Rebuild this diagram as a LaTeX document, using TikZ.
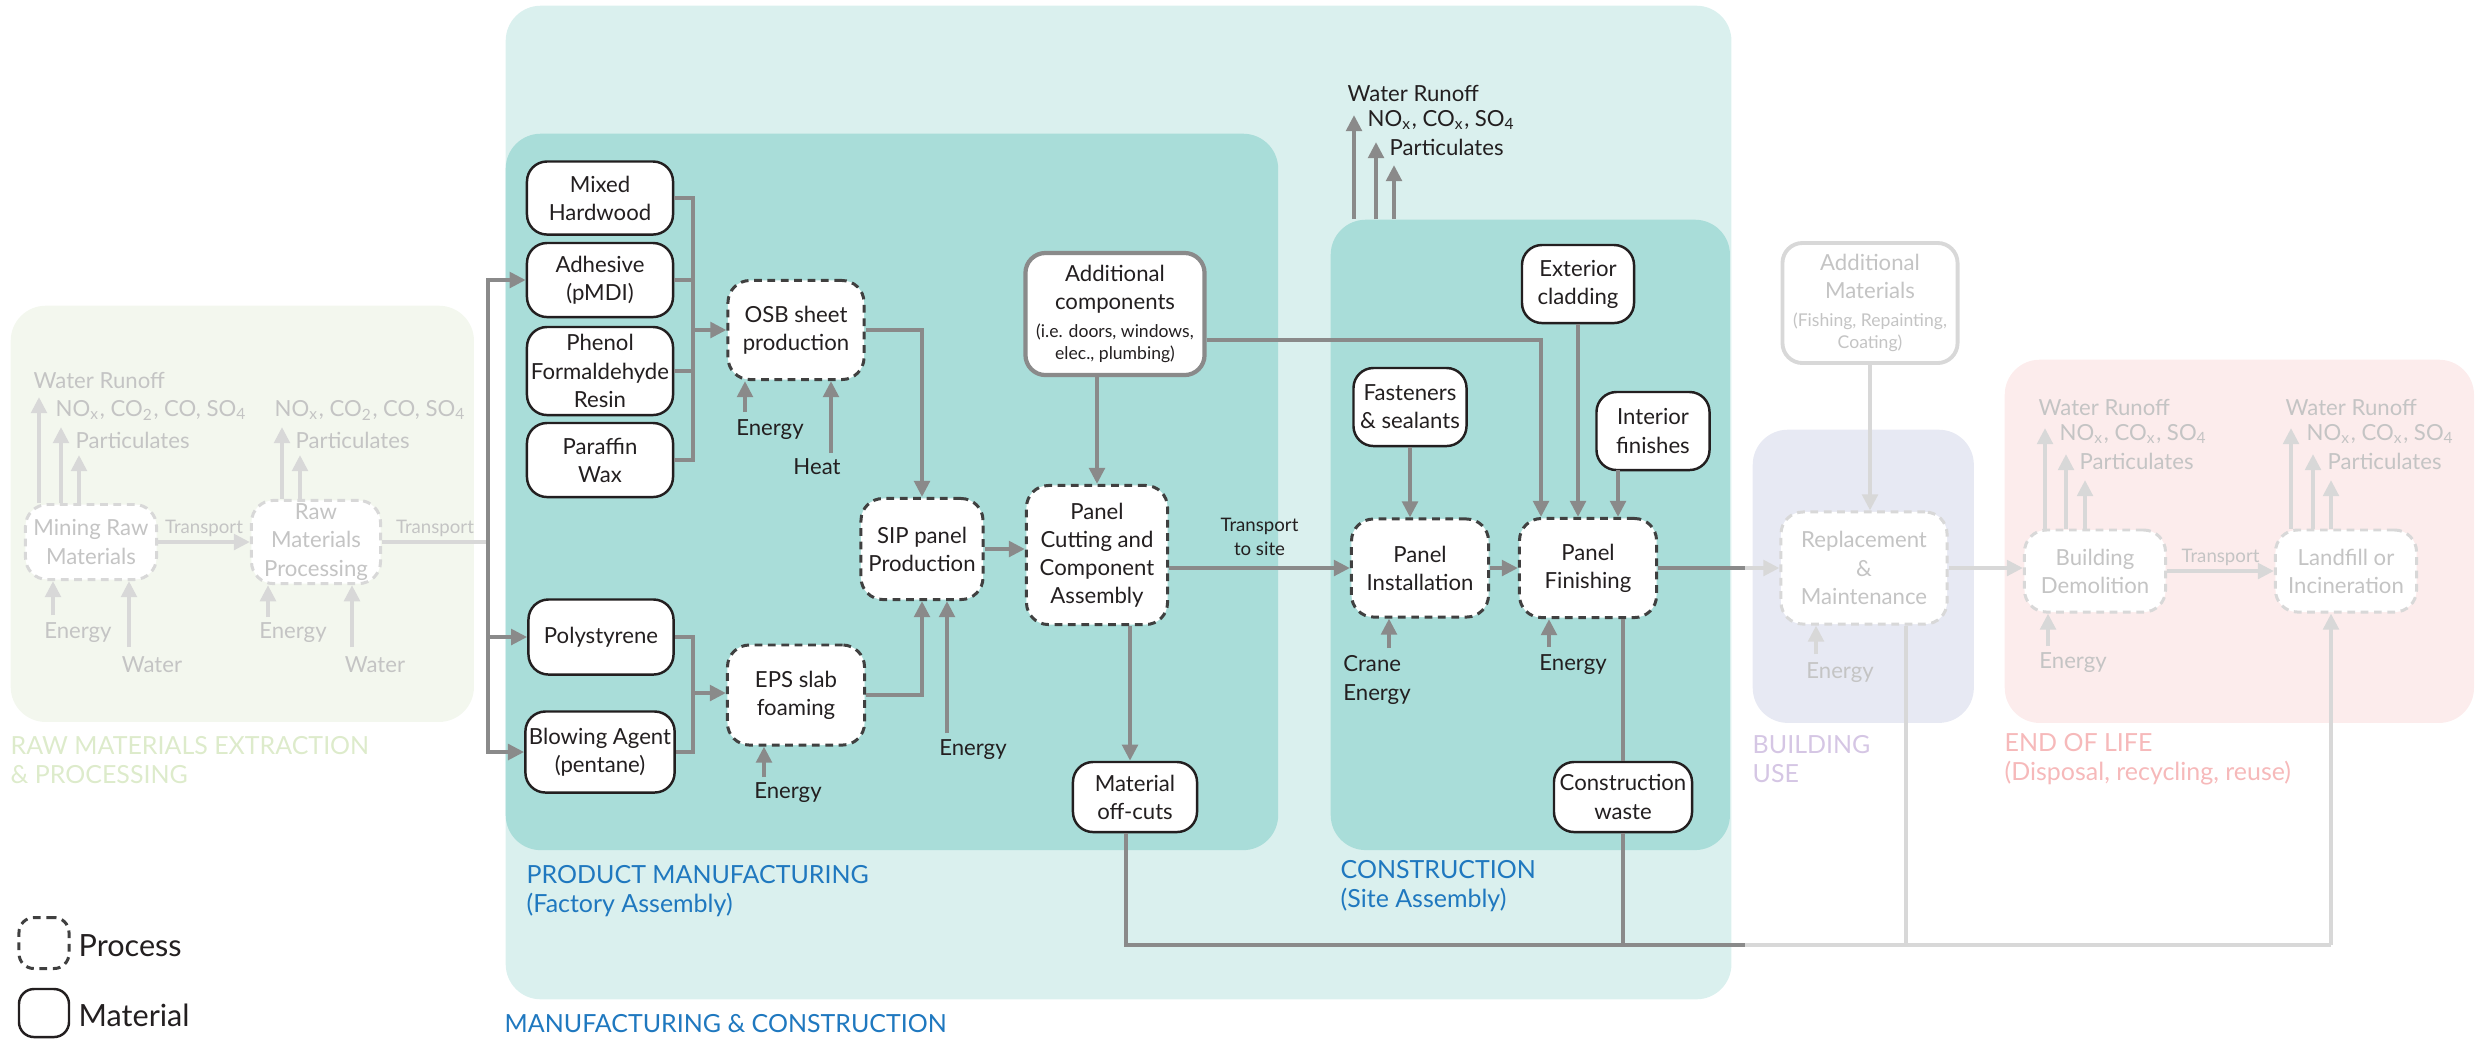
\documentclass[tikz,border=0pt]{standalone}
\usepackage{fontspec}
\setmainfont{Lato}
\usetikzlibrary{arrows.meta}

\definecolor{ink}{HTML}{231F20}
\definecolor{dashc}{HTML}{404040}
\definecolor{flowc}{HTML}{8A8A8A}
\definecolor{ghostline}{HTML}{D8D8D8}
\definecolor{ghosttext}{HTML}{C4C4C4}
\definecolor{rawbg}{HTML}{F3F7EE}
\definecolor{mcbg}{HTML}{DAF0EE}
\definecolor{tealbg}{HTML}{A9DDD9}
\definecolor{usebg}{HTML}{E7E9F3}
\definecolor{eolbg}{HTML}{FCECEC}
\definecolor{rawlbl}{HTML}{DDEBCB}
\definecolor{mclbl}{HTML}{1F78BF}
\definecolor{uselbl}{HTML}{D5C6E4}
\definecolor{eollbl}{HTML}{F6B9BA}

\newcommand{\smalltxt}[1]{{\fontsize{5}{6}\selectfont #1}}

\tikzset{
  >={Triangle[length=4.6pt,width=4.4pt]},
  region/.style={anchor=north west,inner sep=0pt,rounded corners=3.5mm},
  boxsz/.style 2 args={minimum width=#1cm,minimum height=#2cm},
  matbox/.style={draw=ink,fill=white,line width=0.7pt,rounded corners=2mm,
    align=center,inner sep=1pt},
  procbox/.style={draw=dashc,fill=white,line width=0.85pt,
    dash pattern=on 2.2pt off 1.6pt,rounded corners=2.2mm,align=center,inner sep=1pt},
  ghostproc/.style={procbox,draw=ghostline,text=ghosttext},
  ghostmat/.style={matbox,draw=ghostline,line width=1.1pt,text=ghosttext},
  flow/.style={->,draw=flowc,line width=1.15pt},
  link/.style={draw=flowc,line width=1.15pt},
  ghostflow/.style={->,draw=ghostline,line width=1.15pt},
  ghostlink/.style={draw=ghostline,line width=1.15pt},
  inlbl/.style={inner sep=0pt,align=left},
  ghostlbl/.style={inner sep=0pt,text=ghosttext},
  emis/.style={anchor=west,inner sep=0pt},
  smalllbl/.style={font=\fontsize{5.3}{6.8}\selectfont,inner sep=1pt,align=center},
  seclbl/.style={anchor=west,align=left,inner sep=0pt,font=\fontsize{7.1}{8.4}\selectfont},
  leglbl/.style={anchor=west,inner sep=0pt,font=\fontsize{8.7}{10}\selectfont},
}

\begin{document}
\begin{tikzpicture}[x=0.01cm,y=-0.01cm,font=\fontsize{6.3}{8}\selectfont,text=ink]
\useasboundingbox (0,0) rectangle (2476,1038);

% stage backgrounds
\node[region,fill=rawbg,minimum width=4.63cm,minimum height=4.16cm] (rawbg) at (10,305) {};
\node[region,fill=mcbg,minimum width=12.25cm,minimum height=9.93cm] (mcbg) at (505,5) {};
\node[region,fill=tealbg,minimum width=7.72cm,minimum height=7.16cm] (pmbg) at (505,133) {};
\node[region,fill=tealbg,minimum width=3.99cm,minimum height=6.30cm] (csbg) at (1330,219) {};
\node[region,fill=usebg,minimum width=2.21cm,minimum height=2.93cm] (usebg) at (1752,429) {};
\node[region,fill=eolbg,minimum width=4.69cm,minimum height=3.63cm] (eolbg) at (2004,359) {};

\node[seclbl,text=rawlbl] (rawtitle) at (10,760) {RAW MATERIALS EXTRACTION\\\& PROCESSING};
\node[seclbl,text=mclbl] (pmtitle) at (526,891) {PRODUCT MANUFACTURING\\(Factory Assembly)};
\node[seclbl,text=mclbl] (cstitle) at (1340,886) {CONSTRUCTION\\(Site Assembly)};
\node[seclbl,text=mclbl] (mctitle) at (504,1024) {MANUFACTURING \& CONSTRUCTION};
\node[seclbl,text=uselbl] (usetitle) at (1752,759) {BUILDING\\USE};
\node[seclbl,text=eollbl] (eoltitle) at (2004,759) {END OF LIFE\\(Disposal, recycling, reuse)};

% raw materials (faded)
\node[ghostproc,boxsz={1.31}{0.75}] (mine) at (91,542) {Mining Raw\\Materials};
\node[ghostproc,boxsz={1.29}{0.83}] (rawproc) at (316,542) {Raw\\Materials\\Processing};
\node[ghostlbl,emis] (mineWR) at (33,380) {Water Runoff};
\node[ghostlbl,emis] (mineNO) at (55,410) {NO\textsubscript{x}, CO\textsubscript{2}, CO, SO\textsubscript{4}};
\node[ghostlbl,emis] (minePM) at (75,440) {Particulates};
\node[ghostlbl,emis] (rawNO) at (274,410) {NO\textsubscript{x}, CO\textsubscript{2}, CO, SO\textsubscript{4}};
\node[ghostlbl,emis] (rawPM) at (295,440) {Particulates};
\coordinate (mineo1) at (39,397);
\coordinate (mineo2) at (61,427);
\coordinate (mineo3) at (79,455);
\coordinate (rawo1) at (282,427);
\coordinate (rawo2) at (300,455);
\foreach \c in {mineo1,mineo2,mineo3}
  \draw[ghostflow] (mine.north -| \c) -- (\c);
\foreach \c in {rawo1,rawo2}
  \draw[ghostflow] (rawproc.north -| \c) -- (\c);

\node[ghostlbl] (mineEn) at (78,633) {Energy};
\node[ghostlbl] (mineWa) at (152,665) {Water};
\node[ghostlbl] (rawEn) at (293,633) {Energy};
\node[ghostlbl] (rawWa) at (375,665) {Water};
\coordinate (mineEnIn) at (53,615);
\coordinate (mineWaIn) at (129,647);
\coordinate (rawEnIn) at (268,617);
\coordinate (rawWaIn) at (352,647);
\draw[ghostflow] (mineEnIn) -- (mineEnIn |- mine.south);
\draw[ghostflow] (mineWaIn) -- (mineWaIn |- mine.south);
\draw[ghostflow] (rawEnIn) -- (rawEnIn |- rawproc.south);
\draw[ghostflow] (rawWaIn) -- (rawWaIn |- rawproc.south);

\coordinate (split) at (488,542);
\draw[ghostflow] (mine.east) -- node[above,smalllbl,text=ghosttext] {Transport} (rawproc.west);
\draw[ghostlink] (rawproc.east) -- node[above,smalllbl,text=ghosttext] {Transport} (split);

% factory assembly
\node[matbox,boxsz={1.46}{0.73}] (hardwood) at (600,198) {Mixed\\Hardwood};
\node[matbox,boxsz={1.46}{0.74}] (adhesive) at (600,280) {Adhesive\\(pMDI)};
\node[matbox,boxsz={1.46}{0.88}] (phenol) at (600,371) {Phenol\\Formaldehyde\\Resin};
\node[matbox,boxsz={1.46}{0.74}] (paraffin) at (600,460) {Paraffin\\Wax};
\node[procbox,boxsz={1.36}{0.99}] (osb) at (796,330) {OSB sheet\\production};
\node[matbox,boxsz={1.45}{0.75}] (polyst) at (601,637) {Polystyrene};
\node[matbox,boxsz={1.47}{0.81}] (blowing) at (600,752) {Blowing Agent\\(pentane)};
\node[procbox,boxsz={1.37}{1.00}] (eps) at (796,695) {EPS slab\\foaming};
\node[procbox,boxsz={1.22}{1.01}] (sip) at (922,549) {SIP panel\\Production};
\node[procbox,boxsz={1.41}{1.39}] (cutting) at (1097,555) {Panel\\Cutting and\\Component\\Assembly};
\node[matbox,draw=flowc,line width=1.2pt,boxsz={1.79}{1.22}] (addcomp) at (1115,314)
  {Additional\\components\\\smalltxt{(i.e. doors, windows,}\\[-1.6pt]\smalltxt{elec., plumbing)}};
\node[matbox,boxsz={1.24}{0.70}] (offcuts) at (1135,797) {Material\\off-cuts};

\draw[flow] (split) |- (adhesive.west);
\draw[flow] (split) |- (polyst.west);
\draw[flow] (split) |- (blowing.west);

\coordinate (osbjoin) at (693,330);
\coordinate (epsjoin) at (693,693);
\foreach \m in {hardwood,adhesive,phenol,paraffin}
  \draw[link] (\m.east) -| (osbjoin);
\draw[flow] (osbjoin) -- (osb.west);
\foreach \m in {polyst,blowing}
  \draw[link] (\m.east) -| (epsjoin);
\draw[flow] (epsjoin) -- (epsjoin -| eps.west);

\node (osbEn) at (770,430) {Energy};
\node (osbHeat) at (817,467) {Heat};
\node (epsEn) at (788,793) {Energy};
\node (sipEn) at (973,750) {Energy};
\coordinate (osbEnIn) at (745,412);
\coordinate (osbHeatIn) at (831,453);
\coordinate (epsEnIn) at (764,777);
\coordinate (sipEnIn) at (947,733);
\draw[flow] (osbEnIn) -- (osbEnIn |- osb.south);
\draw[flow] (osbHeatIn) -- (osbHeatIn |- osb.south);
\draw[flow] (epsEnIn) -- (epsEnIn |- eps.south);
\draw[flow] (sipEnIn) -- (sipEnIn |- sip.south);

\draw[flow] (osb.east) -| (sip.north);
\draw[flow] (eps.east) -| (sip.south);
\draw[flow] (sip.east) -- (sip.east -| cutting.west);
\draw[flow] (addcomp.south -| cutting.north) -- (cutting.north);
\coordinate (cutout) at (1130,0);
\draw[flow] (cutout |- cutting.south) -- (cutout |- offcuts.north);

% site assembly
\node[matbox,boxsz={1.13}{0.78}] (fasten) at (1410,407) {Fasteners\\\& sealants};
\node[matbox,boxsz={1.12}{0.78}] (cladding) at (1578,284) {Exterior\\cladding};
\node[matbox,boxsz={1.13}{0.78}] (interior) at (1653,431) {Interior\\finishes};
\node[procbox,boxsz={1.37}{0.98}] (install) at (1420,568) {Panel\\Installation};
\node[procbox,boxsz={1.37}{0.99}] (finish) at (1588,568) {Panel\\Finishing};
\node[matbox,boxsz={1.38}{0.70}] (waste) at (1623,797) {Construction\\waste};

\node[emis] (csWR) at (1347,93) {Water Runoff};
\node[emis] (csNO) at (1367,120) {NO\textsubscript{x}, CO\textsubscript{x}, SO\textsubscript{4}};
\node[emis] (csPM) at (1389,147) {Particulates};
\coordinate (cso1) at (1354,115);
\coordinate (cso2) at (1376,142);
\coordinate (cso3) at (1394,165);
\foreach \c in {cso1,cso2,cso3}
  \draw[flow] (csbg.north -| \c) -- (\c);

\draw[flow] (cutting.east |- install.west) -- node[above=2pt,smalllbl] {Transport\\to site} (install.west);
\draw[flow] (install.east) -- (finish.west);
\draw[flow] (fasten.south) -- (fasten.south |- install.north);
\draw[flow] (cladding.south) -- (cladding.south |- finish.north);
\coordinate (intout) at (1618,470);
\draw[flow] (intout) -- (intout |- finish.north);
\coordinate (addturn) at (1541,340);
\draw[flow] (addcomp.east |- addturn) -| (addturn |- finish.north);

\node[inlbl] (instEn) at (1377,680) {Crane\\Energy};
\node (finEn) at (1573,665) {Energy};
\coordinate (instEnIn) at (1389,648);
\coordinate (finEnIn) at (1549,647);
\draw[flow] (instEnIn) -- (instEnIn |- install.south);
\draw[flow] (finEnIn) -- (finEnIn |- finish.south);

\draw[link] (waste.north |- finish.south) -- (waste.north);

% building use and end of life (faded)
\node[ghostmat,boxsz={1.75}{1.20}] (addmat) at (1870,303)
  {Additional\\Materials\\\smalltxt{(Fishing, Repainting,}\\[-1.6pt]\smalltxt{Coating)}};
\node[ghostproc,boxsz={1.66}{1.12}] (replace) at (1864,568) {Replacement\\\&\\Maintenance};
\node[ghostproc,boxsz={1.41}{0.82}] (demol) at (2095,571) {Building\\Demolition};
\node[ghostproc,boxsz={1.41}{0.82}] (landfill) at (2346,571) {Landfill or\\Incineration};

\coordinate (usegate) at (1745,568);
\draw[link] (finish.east) -- (usegate);
\draw[ghostflow] (usegate) -- (replace.west);
\draw[ghostflow] (addmat.south) -- (addmat.south |- replace.north);
\draw[ghostflow] (replace.east) -- (replace.east -| demol.west);
\draw[ghostflow] (demol.east) -- node[above,smalllbl,text=ghosttext] {Transport} (landfill.west);

\node[ghostlbl] (replEn) at (1840,673) {Energy};
\node[ghostlbl] (demEn) at (2073,663) {Energy};
\coordinate (replEnIn) at (1816,654);
\coordinate (demEnIn) at (2048,646);
\draw[ghostflow] (replEnIn) -- (replEnIn |- replace.south);
\draw[ghostflow] (demEnIn) -- (demEnIn |- demol.south);

\node[ghostlbl,emis] (demWR) at (2038,407) {Water Runoff};
\node[ghostlbl,emis] (demNO) at (2059,434) {NO\textsubscript{x}, CO\textsubscript{x}, SO\textsubscript{4}};
\node[ghostlbl,emis] (demPM) at (2079,461) {Particulates};
\node[ghostlbl,emis] (lfWR) at (2285,407) {Water Runoff};
\node[ghostlbl,emis] (lfNO) at (2306,434) {NO\textsubscript{x}, CO\textsubscript{x}, SO\textsubscript{4}};
\node[ghostlbl,emis] (lfPM) at (2327,461) {Particulates};
\coordinate (demo1) at (2045,428);
\coordinate (demo2) at (2066,454);
\coordinate (demo3) at (2085,480);
\coordinate (lfo1) at (2291,428);
\coordinate (lfo2) at (2313,454);
\coordinate (lfo3) at (2331,480);
\foreach \c in {demo1,demo2,demo3}
  \draw[ghostflow] (demol.north -| \c) -- (\c);
\foreach \c in {lfo1,lfo2,lfo3}
  \draw[ghostflow] (landfill.north -| \c) -- (\c);

% waste return line
\coordinate (busmid) at (1745,945);
\coordinate (busend) at (2331,945);
\coordinate (replout) at (1906,0);
\coordinate (offout) at (1126,0);
\draw[ghostlink] (replout |- replace.south) -- (replout |- busmid);
\draw[ghostlink] (busmid) -- (busend);
\draw[ghostflow] (busend) -- (busend |- landfill.south);
\draw[link] (offout |- offcuts.south) |- (busmid);
\draw[link] (waste.south) -- (waste.south |- busmid);

% legend
\node[procbox,boxsz={0.50}{0.51},rounded corners=1.5mm] (legproc) at (44,943) {};
\node[matbox,boxsz={0.50}{0.48},rounded corners=1.5mm] (legmat) at (44,1013) {};
\node[leglbl] (legproclbl) at (78,946) {Process};
\node[leglbl] (legmatlbl) at (78,1015) {Material};
\end{tikzpicture}
\end{document}
